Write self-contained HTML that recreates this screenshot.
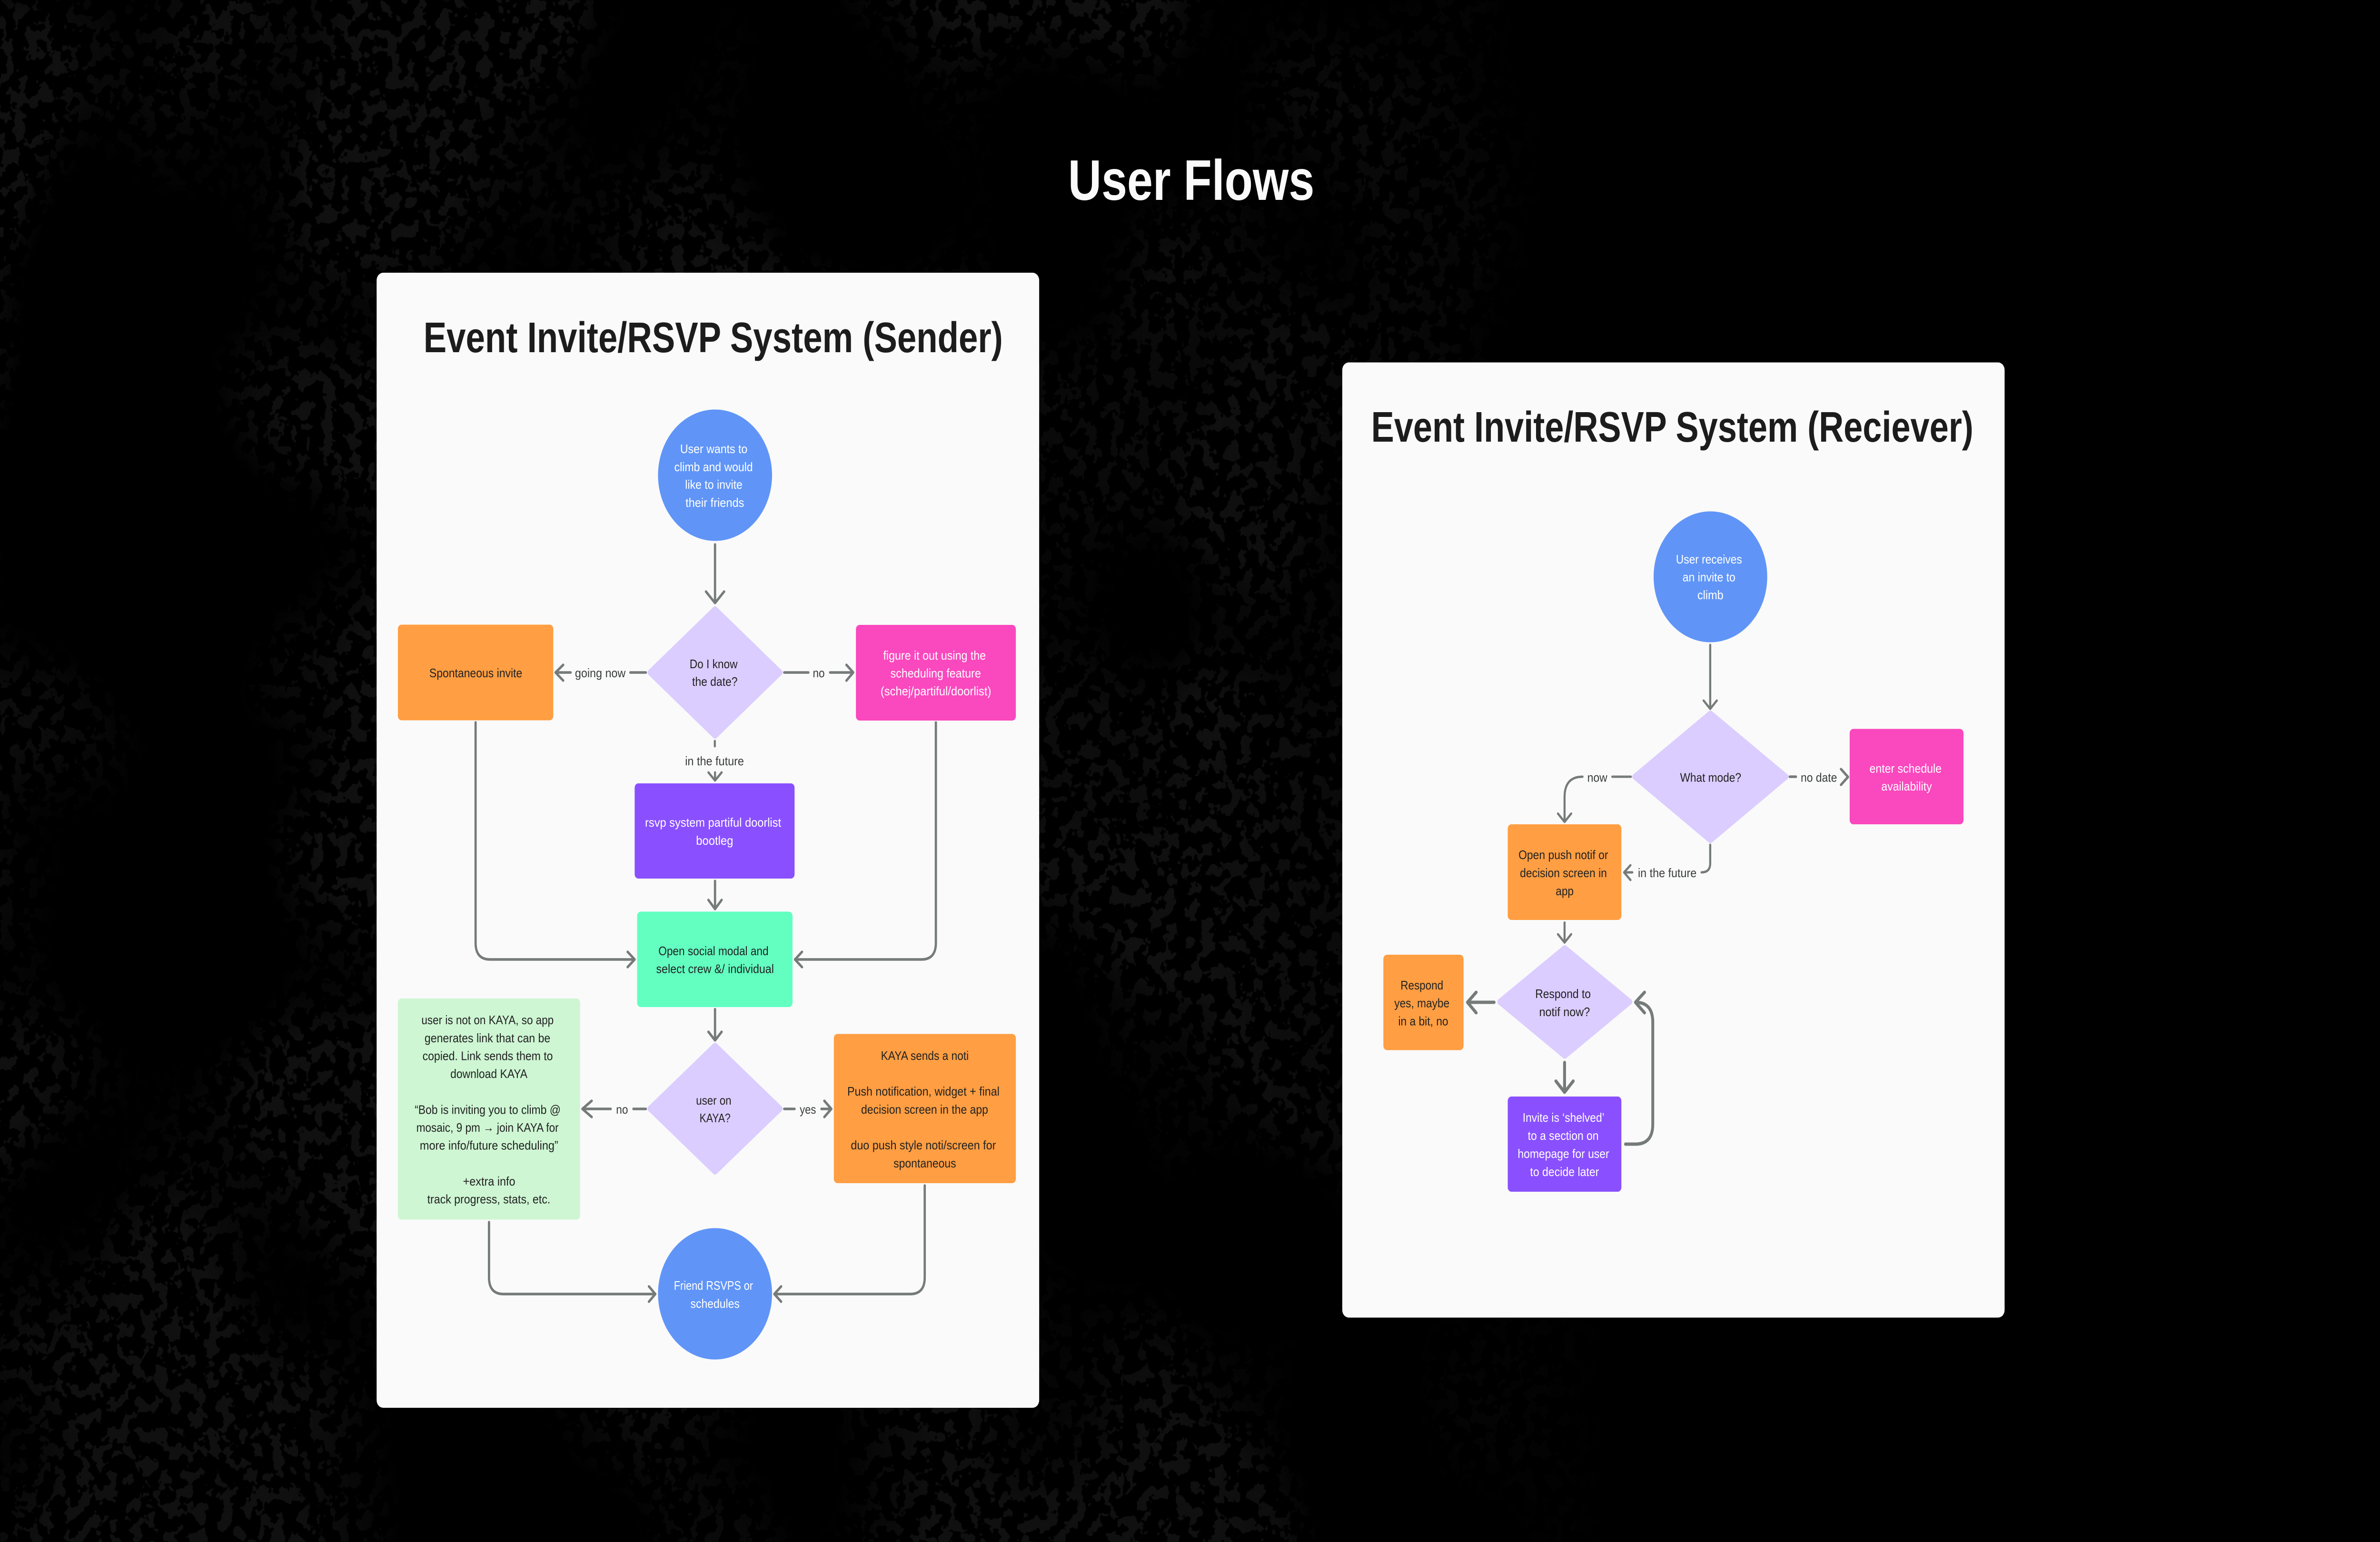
<!DOCTYPE html>
<html><head><meta charset="utf-8"><style>
html,body{margin:0;padding:0;background:#000;width:100%;height:100%;overflow:hidden}
svg{display:block;position:fixed;left:0;top:0;width:100vw;height:100vh}
text{font-family:"Liberation Sans",sans-serif;font-size:26px;fill:#222;dominant-baseline:auto}
.w text,text.w{fill:#fff}
.l{fill:#3a3d3c}
.h{font-weight:700;font-size:90px;fill:#1c1c1c}
.c{fill:none;stroke:#757b79;stroke-width:5.5;stroke-linecap:round;stroke-linejoin:round}
.c2{stroke-width:7}
</style></head><body>
<svg xmlns="http://www.w3.org/2000/svg" viewBox="0 0 5760 3240" preserveAspectRatio="none">
<defs>
<filter id="tex" x="0" y="0" width="1" height="1" color-interpolation-filters="sRGB">
<feTurbulence type="fractalNoise" baseFrequency="0.032" numOctaves="3" seed="7" result="n"/>
<feColorMatrix in="n" type="matrix" values="0 0 0 0 0.062  0 0 0 0 0.062  0 0 0 0 0.062  0 0 0 30 -16" result="b"/>
<feTurbulence type="fractalNoise" baseFrequency="0.0014" numOctaves="2" seed="11" result="m"/>
<feColorMatrix in="m" type="matrix" values="0 0 0 0 0  0 0 0 0 0  0 0 0 0 0  0 0 0 6 -2.4" result="mm"/>
<feComposite in="b" in2="mm" operator="in"/>
</filter>
<linearGradient id="fade" x1="0" y1="0" x2="1" y2="0">
<stop offset="0" stop-color="#fff"/><stop offset="0.75" stop-color="#fff"/><stop offset="1" stop-color="#000"/>
</linearGradient>
<mask id="fm" maskUnits="userSpaceOnUse" x="0" y="0" width="3900" height="3240">
<rect width="3900" height="3240" fill="url(#fade)"/>
</mask>
</defs>
<rect width="5760" height="3240" fill="#000"/>
<g mask="url(#fm)"><rect width="3900" height="3240" filter="url(#tex)"/></g>

<text x="2585" y="420" textLength="596" lengthAdjust="spacingAndGlyphs" style="font-size:120px;font-weight:700;fill:#fafafa">User Flows</text>

<!-- Sender card -->
<rect x="911.5" y="573" width="1603.5" height="2385" rx="16" fill="#fafafa"/>
<text class="h" x="1025" y="740" textLength="1402" lengthAdjust="spacingAndGlyphs">Event Invite/RSVP System (Sender)</text>

<circle cx="1730.5" cy="998.5" r="138" fill="#6095F7"/>
<g class="w">
<text x="1646" y="952" textLength="163" lengthAdjust="spacingAndGlyphs">User wants to</text>
<text x="1632" y="990" textLength="190" lengthAdjust="spacingAndGlyphs">climb and would</text>
<text x="1658" y="1027" textLength="139" lengthAdjust="spacingAndGlyphs">like to invite</text>
<text x="1659" y="1065" textLength="142" lengthAdjust="spacingAndGlyphs">their friends</text>
</g>
<path class="c" d="M1730.5 1144V1267M1708.5 1243L1730.5 1267L1752.5 1243"/>

<polygon points="1730.5,1280 1888,1413 1730.5,1546 1573,1413" fill="#DBCDFF" stroke="#DBCDFF" stroke-width="12" stroke-linejoin="round"/>
<text x="1669" y="1404" textLength="116" lengthAdjust="spacingAndGlyphs">Do I know</text>
<text x="1675" y="1441" textLength="110" lengthAdjust="spacingAndGlyphs">the date?</text>

<rect x="963" y="1312.5" width="376" height="201" rx="9" fill="#FF9E42"/>
<text x="1039" y="1423" textLength="225" lengthAdjust="spacingAndGlyphs">Spontaneous invite</text>
<path class="c" d="M1525.5 1413H1563M1344.5 1413H1381M1363 1397L1344.5 1413L1363 1430"/>
<text class="l" x="1391.5" y="1423" textLength="122.5" lengthAdjust="spacingAndGlyphs">going now</text>

<rect x="2071.5" y="1313" width="387" height="201" rx="9" fill="#FA48BE"/>
<g class="w">
<text x="2137.5" y="1386" textLength="248.5" lengthAdjust="spacingAndGlyphs">figure it out using the</text>
<text x="2155" y="1423.5" textLength="219" lengthAdjust="spacingAndGlyphs">scheduling feature</text>
<text x="2131" y="1461" textLength="268" lengthAdjust="spacingAndGlyphs">(schej/partiful/doorlist)</text>
</g>
<path class="c" d="M1898 1413H1956.5M2009 1413H2065M2048.5 1397L2065 1413L2048.5 1430"/>
<text class="l" x="1967" y="1423" textLength="29" lengthAdjust="spacingAndGlyphs">no</text>

<path class="c" d="M1151 1518V1981Q1151 2016 1186 2016H1536M1519 2000L1536 2016L1519 2032"/>
<path class="c" d="M2265 1518V1981Q2265 2016 2230 2016H1924M1941 2000L1924 2016L1941 2032"/>

<path class="c" d="M1730 1557V1568M1730.5 1623V1640M1714.5 1623L1730.5 1640L1746.5 1623" style="stroke-width:5"/>
<text class="l" x="1658" y="1608" textLength="142.5" lengthAdjust="spacingAndGlyphs">in the future</text>

<rect x="1536" y="1646" width="387" height="200" rx="9" fill="#8A50FF"/>
<g class="w">
<text x="1561" y="1737" textLength="329.5" lengthAdjust="spacingAndGlyphs">rsvp system partiful doorlist</text>
<text x="1684.5" y="1775" textLength="90" lengthAdjust="spacingAndGlyphs">bootleg</text>
</g>
<path class="c" d="M1730.5 1851V1910M1714.5 1891L1730.5 1910L1746.5 1891"/>

<rect x="1542" y="1915.5" width="376" height="200.5" rx="9" fill="#62FFC1"/>
<text x="1593.5" y="2007" textLength="266.5" lengthAdjust="spacingAndGlyphs">Open social modal and</text>
<text x="1588" y="2044.5" textLength="285" lengthAdjust="spacingAndGlyphs">select crew &amp;/ individual</text>
<path class="c" d="M1730.5 2120.5V2186M1714.5 2168L1730.5 2186L1746.5 2168"/>

<polygon points="1730.5,2197 1888,2329.5 1730.5,2462 1573,2329.5" fill="#DBCDFF" stroke="#DBCDFF" stroke-width="12" stroke-linejoin="round"/>
<text x="1684.5" y="2321" textLength="85.5" lengthAdjust="spacingAndGlyphs">user on</text>
<text x="1693" y="2358" textLength="75" lengthAdjust="spacingAndGlyphs">KAYA?</text>

<path class="c" d="M1533 2330H1563M1409.5 2330H1478M1432 2313L1409.5 2330L1432 2347"/>
<text class="l" x="1491" y="2340" textLength="29" lengthAdjust="spacingAndGlyphs">no</text>
<path class="c" d="M1898 2330H1923M1988 2330H2012M1995 2313L2012 2330L1995 2347"/>
<text class="l" x="1935.5" y="2340" textLength="39.5" lengthAdjust="spacingAndGlyphs">yes</text>

<rect x="963" y="2098" width="441" height="464.5" rx="9" fill="#CEF6D3"/>
<text x="1020" y="2152" textLength="320" lengthAdjust="spacingAndGlyphs">user is not on KAYA, so app</text>
<text x="1027.5" y="2190" textLength="304.5" lengthAdjust="spacingAndGlyphs">generates link that can be</text>
<text x="1022.5" y="2227.5" textLength="315.5" lengthAdjust="spacingAndGlyphs">copied. Link sends them to</text>
<text x="1090" y="2265" textLength="186.5" lengthAdjust="spacingAndGlyphs">download KAYA</text>
<text x="1003.5" y="2340.5" textLength="353.5" lengthAdjust="spacingAndGlyphs">“Bob is inviting you to climb @</text>
<text x="1007.5" y="2378" textLength="344.5" lengthAdjust="spacingAndGlyphs">mosaic, 9 pm → join KAYA for</text>
<text x="1016" y="2415.5" textLength="335" lengthAdjust="spacingAndGlyphs">more info/future scheduling”</text>
<text x="1120.5" y="2491" textLength="126.5" lengthAdjust="spacingAndGlyphs">+extra info</text>
<text x="1034" y="2528.5" textLength="298" lengthAdjust="spacingAndGlyphs">track progress, stats, etc.</text>

<rect x="2018" y="2172.5" width="440.5" height="313.5" rx="9" fill="#FF9E42"/>
<text x="2132" y="2227" textLength="212.5" lengthAdjust="spacingAndGlyphs">KAYA sends a noti</text>
<text x="2050.5" y="2302" textLength="368.5" lengthAdjust="spacingAndGlyphs">Push notification, widget + final</text>
<text x="2084" y="2340" textLength="307.5" lengthAdjust="spacingAndGlyphs">decision screen in the app</text>
<text x="2059" y="2415" textLength="351.5" lengthAdjust="spacingAndGlyphs">duo push style noti/screen for</text>
<text x="2162.5" y="2453" textLength="151.5" lengthAdjust="spacingAndGlyphs">spontaneous</text>

<circle cx="1730.5" cy="2718.5" r="138" fill="#6095F7"/>
<g class="w">
<text x="1631" y="2710" textLength="191.5" lengthAdjust="spacingAndGlyphs">Friend RSVPS or</text>
<text x="1671" y="2748" textLength="119" lengthAdjust="spacingAndGlyphs">schedules</text>
</g>
<path class="c" d="M1183.5 2568V2684Q1183.5 2719 1218.5 2719H1586M1570.5 2703L1586 2719L1570.5 2735"/>
<path class="c" d="M2238 2491V2684Q2238 2719 2203 2719H1874M1890.5 2703L1874 2719L1890.5 2735"/>

<!-- Receiver card -->
<rect x="3248.5" y="761.5" width="1603" height="2007" rx="16" fill="#fafafa"/>
<text class="h" x="3318.5" y="928" textLength="1457.5" lengthAdjust="spacingAndGlyphs">Event Invite/RSVP System (Reciever)</text>

<circle cx="4139.5" cy="1212" r="137.5" fill="#6095F7"/>
<g class="w">
<text x="4056" y="1184" textLength="160" lengthAdjust="spacingAndGlyphs">User receives</text>
<text x="4072" y="1221.5" textLength="128" lengthAdjust="spacingAndGlyphs">an invite to</text>
<text x="4108" y="1259" textLength="63" lengthAdjust="spacingAndGlyphs">climb</text>
</g>
<path class="c" d="M4139 1355V1489.5M4123 1472L4139 1489.5L4155 1472" style="stroke-width:5"/>

<polygon points="4139.5,1499 4322.5,1632 4139.5,1765.5 3956.5,1632" fill="#DBCDFF" stroke="#DBCDFF" stroke-width="12" stroke-linejoin="round"/>
<text x="4066" y="1642.5" textLength="148" lengthAdjust="spacingAndGlyphs">What mode?</text>

<path class="c" d="M3902 1632H3947M3830 1632Q3786.5 1632 3786.5 1675V1727M3770.5 1709.5L3786.5 1727L3802.5 1709.5" style="stroke-width:5"/>
<text class="l" x="3841.5" y="1642.5" textLength="48.5" lengthAdjust="spacingAndGlyphs">now</text>
<path class="c" d="M4331.5 1632H4346.5M4455.5 1616L4472.5 1632.5L4455.5 1649"/>
<text class="l" x="4358" y="1642.5" textLength="88" lengthAdjust="spacingAndGlyphs">no date</text>

<rect x="4476.5" y="1531.5" width="275.5" height="200.5" rx="9" fill="#FA48BE"/>
<g class="w">
<text x="4524.5" y="1623.5" textLength="174.5" lengthAdjust="spacingAndGlyphs">enter schedule</text>
<text x="4553" y="1661" textLength="122.5" lengthAdjust="spacingAndGlyphs">availability</text>
</g>

<rect x="3649" y="1732" width="275" height="201" rx="9" fill="#FF9E42"/>
<text x="3675" y="1805" textLength="217" lengthAdjust="spacingAndGlyphs">Open push notif or</text>
<text x="3678.5" y="1843" textLength="210.5" lengthAdjust="spacingAndGlyphs">decision screen in</text>
<text x="3765" y="1881" textLength="43.5" lengthAdjust="spacingAndGlyphs">app</text>

<path class="c" d="M4139 1775V1814Q4139 1833 4118 1833M3930.5 1833H3950.5M3946 1818L3930.5 1833L3946 1849" style="stroke-width:5"/>
<text class="l" x="3964" y="1843" textLength="142" lengthAdjust="spacingAndGlyphs">in the future</text>

<path class="c" d="M3786.5 1938.5V1980.5M3770.5 1963L3786.5 1980.5L3802.5 1963" style="stroke-width:5"/>

<polygon points="3787,1992 3944.5,2105 3787,2218.5 3629.5,2105" fill="#DBCDFF" stroke="#DBCDFF" stroke-width="12" stroke-linejoin="round"/>
<text x="3715.5" y="2097" textLength="134.5" lengthAdjust="spacingAndGlyphs">Respond to</text>
<text x="3725" y="2135" textLength="123" lengthAdjust="spacingAndGlyphs">notif now?</text>

<rect x="3348" y="2006" width="194" height="200.5" rx="9" fill="#FF9E42"/>
<text x="3389.5" y="2079" textLength="103.5" lengthAdjust="spacingAndGlyphs">Respond</text>
<text x="3374.5" y="2116.5" textLength="133.5" lengthAdjust="spacingAndGlyphs">yes, maybe</text>
<text x="3384" y="2154.5" textLength="121" lengthAdjust="spacingAndGlyphs">in a bit, no</text>

<path class="c c2" d="M3616 2106H3551.5M3572.5 2085L3551.5 2106L3572.5 2128"/>
<path class="c c2" d="M3786.5 2232.5V2295M3765.5 2271.5L3786.5 2295L3807.5 2271.5"/>

<rect x="3649" y="2304" width="275" height="200" rx="9" fill="#8A50FF"/>
<g class="w">
<text x="3685" y="2357" textLength="198" lengthAdjust="spacingAndGlyphs">Invite is ‘shelved’</text>
<text x="3697.5" y="2395" textLength="171.5" lengthAdjust="spacingAndGlyphs">to a section on</text>
<text x="3673" y="2433" textLength="221.5" lengthAdjust="spacingAndGlyphs">homepage for user</text>
<text x="3703" y="2471" textLength="167" lengthAdjust="spacingAndGlyphs">to decide later</text>
</g>
<path class="c c2" d="M3934 2404H3958Q4000 2404 4000 2362V2148Q4000 2106 3958 2106M3980 2085L3958 2106L3980 2128"/>
</svg>
</body></html>
